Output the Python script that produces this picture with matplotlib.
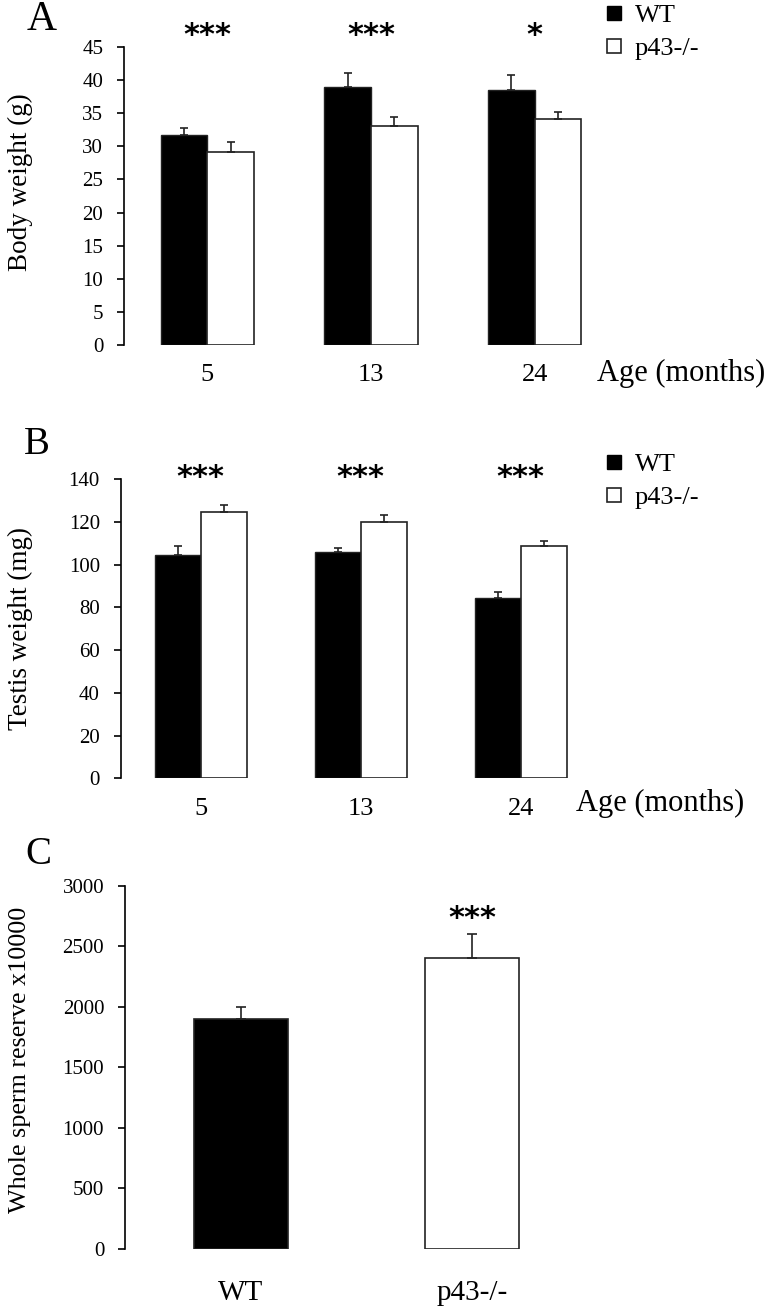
import matplotlib
matplotlib.use('Agg')
import matplotlib.pyplot as plt
from matplotlib.lines import Line2D
import numpy as np

plt.rcParams['font.family'] = ['Liberation Serif', 'DejaVu Serif']

# Data
ages = ['5', '13', '24']
groups = ['WT', 'p43-/-']

body_wt = [31.7, 39.0, 38.5]
body_wt_err = [1.1, 2.1, 2.2]
body_ko = [29.1, 33.0, 34.1]
body_ko_err = [1.5, 1.5, 1.1]
body_sig = ['***', '***', '*']

testis_wt = [104.5, 105.8, 84.3]
testis_wt_err = [4.3, 1.9, 3.1]
testis_ko = [124.8, 119.9, 108.9]
testis_ko_err = [3.0, 3.2, 2.3]
testis_sig = ['***', '***', '***']

sperm_vals = [1900, 2400]
sperm_err = [100, 200]
sperm_sig = ['', '***']

W, H = 769, 1312
fig = plt.figure(figsize=(W / 100, H / 100), dpi=100)


def px_axes(left, top, right, bottom):
    return fig.add_axes([left / W, 1 - bottom / H, (right - left) / W, (bottom - top) / H])


def style(ax, ymax, step):
    for s in ['top', 'right', 'bottom']:
        ax.spines[s].set_visible(False)
    ax.spines['left'].set_linewidth(1.2)
    ax.set_ylim(0, ymax)
    ax.set_yticks(np.arange(0, ymax + step / 2, step))
    ax.tick_params(axis='y', direction='out', length=5, width=1.2, pad=10, labelsize=15)
    ax.tick_params(axis='x', length=0, pad=14, labelsize=19)


def star(ax, x, y, s):
    ax.text(x, y, s, ha='center', va='center', fontsize=22, family='DejaVu Sans',
            fontweight='bold', transform=ax.get_xaxis_transform())


def grouped(ax, wt, wt_err, ko, ko_err, sig, ymax, step, width, sig_y):
    x = np.arange(len(ages))
    ax.bar(x - width / 2, wt, width, color='black', edgecolor='#222222', linewidth=1)
    ax.bar(x + width / 2, ko, width, color='white', edgecolor='#222222', linewidth=1.2)
    ax.errorbar(x - width / 2, wt, yerr=[np.zeros(3), wt_err], fmt='none',
                ecolor='#222222', elinewidth=1.2, capsize=3, capthick=1.2)
    ax.errorbar(x + width / 2, ko, yerr=[np.zeros(3), ko_err], fmt='none',
                ecolor='#222222', elinewidth=1.2, capsize=3, capthick=1.2)
    style(ax, ymax, step)
    ax.set_xticks(x)
    ax.set_xticklabels(ages)
    for xi, s in zip(x, sig):
        star(ax, xi, sig_y, s)


# Panel A
axA = px_axes(124, 47, 700, 345)
grouped(axA, body_wt, body_wt_err, body_ko, body_ko_err, body_sig, 45, 5, 0.285, 1.037)
axA.set_xlim(-0.509, -0.509 + 576 / 163.7)

# Panel B
axB = px_axes(120.7, 479.3, 700, 778.3)
grouped(axB, testis_wt, testis_wt_err, testis_ko, testis_ko_err, testis_sig, 140, 20, 0.2875, 1.005)
axB.set_xlim(-0.5, -0.5 + 579.3 / 160)

# Panel C
axC = px_axes(125, 885.7, 700, 1249)
xc = np.arange(len(groups))
axC.bar(xc, sperm_vals, 0.405, color=['black', 'white'], edgecolor='#222222', linewidth=1.2)
axC.errorbar(xc, sperm_vals, yerr=[np.zeros(2), sperm_err], fmt='none',
             ecolor='#222222', elinewidth=1.2, capsize=3.5, capthick=1.2)
style(axC, 3000, 500)
axC.set_xticks(xc)
axC.set_xticklabels(groups)
axC.tick_params(axis='x', pad=22, labelsize=21)
axC.set_xlim(-0.5, -0.5 + 575 / 231.4)
for xi, s in zip(xc, sperm_sig):
    if s:
        star(axC, xi, 0.911, s)

# Axis titles and panel letters
fig.text(20 / W, 1 - 182 / H, 'Body weight (g)', rotation=90, ha='center', va='center', fontsize=19.5)
fig.text(20 / W, 1 - 628 / H, 'Testis weight (mg)', rotation=90, ha='center', va='center', fontsize=19.5)
fig.text(20 / W, 1 - 1060 / H, 'Whole sperm reserve x10000', rotation=90, ha='center', va='center', fontsize=18.8)
fig.text(681 / W, 1 - 373 / H, 'Age (months)', ha='center', va='center', fontsize=22)
fig.text(660 / W, 1 - 803 / H, 'Age (months)', ha='center', va='center', fontsize=22)
fig.text(42 / W, 1 - 20 / H, 'A', ha='center', va='center', fontsize=30)
fig.text(37 / W, 1 - 444 / H, 'B', ha='center', va='center', fontsize=28)
fig.text(38 / W, 1 - 854 / H, 'C', ha='center', va='center', fontsize=28)

# Legends
handles = [Line2D([], [], marker='s', linestyle='none', markersize=10,
                  markerfacecolor='black', markeredgecolor='black'),
           Line2D([], [], marker='s', linestyle='none', markersize=10,
                  markerfacecolor='white', markeredgecolor='#222222', markeredgewidth=1.2)]
for top in [4, 453]:
    fig.legend(handles, groups, loc='upper left', bbox_to_anchor=(603 / W, 1 - top / H),
               frameon=False, fontsize=19, handlelength=0.8, handletextpad=0.4,
               labelspacing=0.35, borderpad=0, borderaxespad=0)

fig.savefig('out.png', dpi=100)
